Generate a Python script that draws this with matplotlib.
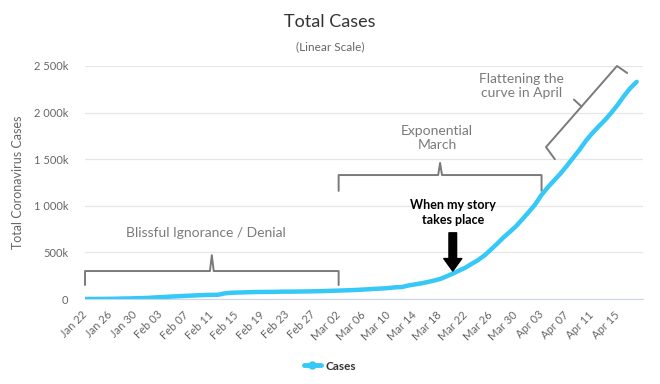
import numpy as np
import matplotlib
matplotlib.use("Agg")
import matplotlib.pyplot as plt
import pandas as pd
from matplotlib.lines import Line2D

# Total cases, one value per day from Jan 22 to Apr 18
dates = pd.date_range("2020-01-22", "2020-04-18", freq="D")
cases = [
    555, 654, 941, 1434, 2118, 2927, 5578, 6166, 8234, 9927,              # Jan 22-31
    12038, 16787, 19881, 23892, 27635, 30794, 34391, 37120, 40150, 42762,  # Feb 01-10
    44802, 45221, 60368, 66885, 69030, 71224, 73258, 75136, 75639, 76197,  # Feb 11-20
    76819, 78572, 78958, 79561, 80406, 81388, 82746, 84112, 86011,         # Feb 21-29
    88369, 90306, 92840, 95120, 97886, 101801, 105847, 109821, 113590, 118620,  # Mar 01-10
    125875, 128352, 145205, 156101, 167454, 181574, 197102, 214821, 242570, 272208,  # Mar 11-20
    304507, 336953, 378235, 418045, 467653, 529591, 593291, 660706, 720117, 782365,  # Mar 21-30
    857487,                                                                 # Mar 31
    935000, 1015000, 1117000, 1200000, 1273000, 1347000, 1430000, 1516000, 1603000, 1698000,  # Apr 01-10
    1779000, 1851000, 1920000, 1998000, 2083000, 2178000, 2263000, 2330000,  # Apr 11-18
]
ytick_values = [0, 500000, 1000000, 1500000, 2000000, 2500000]
ytick_labels = ["0", "500k", "1 000k", "1 500k", "2 000k", "2 500k"]

LINE = "#36c8f6"
GREY = "#7a7a7a"
TXT = "#666666"

plt.rcParams["font.family"] = ["Lato", "DejaVu Sans"]

fig = plt.figure(figsize=(6.6, 3.84), dpi=100)
ax = fig.add_axes([85 / 660, 85 / 384, 558 / 660, 233 / 384])

days = np.arange(len(cases))
ax.plot(days, cases, color=LINE, lw=3.2, solid_capstyle="round", solid_joinstyle="round", zorder=3)

ax.set_xlim(0, 88)
ax.set_ylim(0, 2500000)
ax.set_yticks(ytick_values)
ax.set_yticklabels(ytick_labels)
xt = days[::4]
ax.set_xticks(xt)
ax.set_xticklabels([dates[i].strftime("%b %d") for i in xt], rotation=45, ha="right",
                   rotation_mode="anchor", va="center")
ax.tick_params(axis="both", length=0, colors=TXT, labelsize=8)
ax.tick_params(axis="x", pad=10)
ax.tick_params(axis="y", pad=12)
ax.grid(axis="y", color="#e6e6e6", lw=0.9)
ax.set_axisbelow(True)
for s in ["top", "right", "left"]:
    ax.spines[s].set_visible(False)
ax.spines["bottom"].set_color("#ccd6eb")
ax.set_ylabel("Total Coronavirus Cases", color=TXT, fontsize=9, labelpad=7)

fig.text(0.5, 1 - 22 / 384, "Total Cases", ha="center", va="center", fontsize=13, color="#333333")
fig.text(0.5, 1 - 47 / 384, "(Linear Scale)", ha="center", va="center", fontsize=8.5, color=TXT)

# brackets
def brace(xs, ys):
    ax.plot(xs, ys, color=GREY, lw=1.4, clip_on=False, zorder=2,
            solid_joinstyle="round", solid_capstyle="round")

brace([0, 0, 19.7, 20, 20.3, 40, 40], [150000, 300000, 300000, 470000, 300000, 300000, 150000])
brace([40, 40, 55.7, 56, 56.3, 72, 72], [1160000, 1330000, 1330000, 1460000, 1330000, 1330000, 1160000])
brace([74.1, 72.7, 78.3, 83.9, 85.5], [1500000, 1630000, 2065000, 2500000, 2425000])
brace([78.3, 77.1], [2065000, 2140000])

ax.text(19, 707000, "Blissful Ignorance / Denial", ha="center", va="center", fontsize=10, color=GREY)
ax.text(55.5, 1727000, "Exponential\nMarch", ha="center", va="center", fontsize=10, color=GREY,
        linespacing=1.25)
ax.text(68.9, 2285000, "Flattening the\ncurve in April", ha="center", va="center", fontsize=10,
        color=GREY, linespacing=1.25)
ax.text(58, 933000, "When my story\ntakes place", ha="center", va="center", fontsize=9,
        color="black", fontweight="bold", linespacing=1.3)
ax.annotate("", xy=(58, 300000), xytext=(58, 710000),
            arrowprops=dict(facecolor="black", edgecolor="black", width=5.5, headwidth=13,
                            headlength=9))

handle = Line2D([0], [0], color=LINE, lw=3.5, marker="o", markersize=5, solid_capstyle="round")
fig.legend([handle], ["Cases"], loc="center", bbox_to_anchor=(0.5, 1 - 366 / 384), frameon=False,
           handlelength=1.4, handletextpad=0.4, prop={"weight": "bold", "size": 8.5},
           labelcolor="#333333")

fig.savefig("out.png", dpi=100)
